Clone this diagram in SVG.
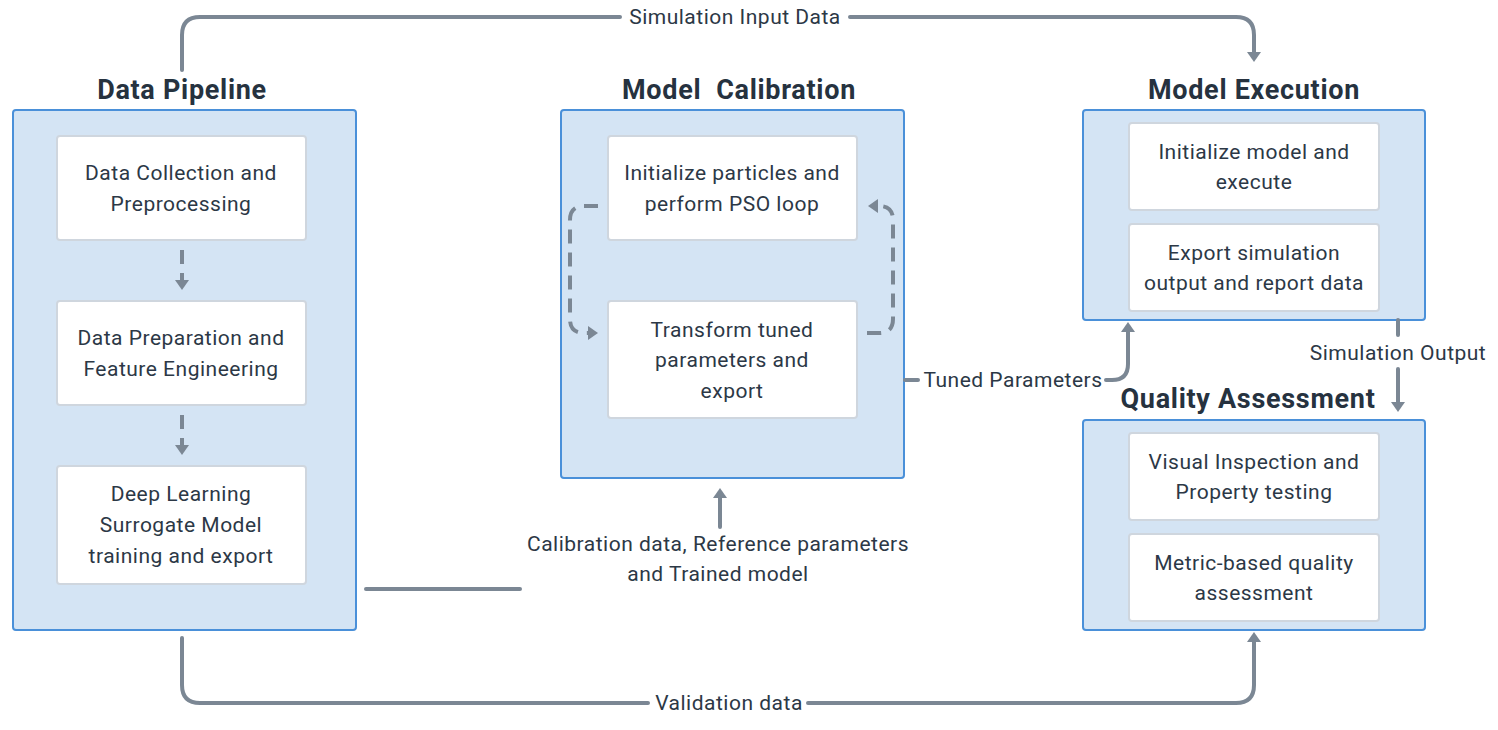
<svg xmlns="http://www.w3.org/2000/svg" width="1498" height="730" viewBox="0 0 1498 730">
<defs>
<marker id="arr" markerUnits="userSpaceOnUse" markerWidth="12" markerHeight="16" viewBox="0 0 10 16" refX="4" refY="8" orient="auto">
<path d="M0,1 L10,8 L0,15 z" fill="#7b8794"/>
</marker>
<style>
.group{fill:#d4e4f4;stroke:#4a90d9;stroke-width:2}
.box{fill:#ffffff;stroke:#cfd6de;stroke-width:2}
.title{font-family:Roboto,"Liberation Sans",sans-serif;font-weight:bold;font-size:27px;fill:#26323f;text-anchor:middle;letter-spacing:0.7px}
.t{font-family:Roboto,"Liberation Sans",sans-serif;font-size:21px;fill:#2c3846;text-anchor:middle;letter-spacing:0.5px}
.c{fill:none;stroke:#7b8794;stroke-width:4;stroke-linecap:round;stroke-linejoin:round}
.d{fill:none;stroke:#7b8794;stroke-width:4;stroke-dasharray:14 9}
</style>
</defs>

<g id="data-pipeline">
<text class="title" x="182" y="99">Data Pipeline</text>
<rect class="group" x="13" y="110" width="343" height="520" rx="3"/>
<g id="data-collection">
<rect class="box" x="57" y="136" width="249" height="104" rx="3"/>
<text class="t" x="181" y="180">Data Collection and</text>
<text class="t" x="181" y="211">Preprocessing</text>
</g>
<g id="data-preparation">
<rect class="box" x="57" y="301" width="249" height="104" rx="3"/>
<text class="t" x="181" y="345">Data Preparation and</text>
<text class="t" x="181" y="376">Feature Engineering</text>
</g>
<g id="deep-learning">
<rect class="box" x="57" y="466" width="249" height="118" rx="3"/>
<text class="t" x="181" y="501">Deep Learning</text>
<text class="t" x="181" y="532">Surrogate Model</text>
<text class="t" x="181" y="563">training and export</text>
</g>
</g>

<g id="model-calibration">
<text class="title" x="739" y="99">Model&#160; Calibration</text>
<rect class="group" x="561" y="110" width="343" height="368" rx="3"/>
<g id="init-particles">
<rect class="box" x="608" y="136" width="249" height="104" rx="3"/>
<text class="t" x="732" y="180">Initialize particles and</text>
<text class="t" x="732" y="211">perform PSO loop</text>
</g>
<g id="transform-params">
<rect class="box" x="608" y="301" width="249" height="117" rx="3"/>
<text class="t" x="732" y="337">Transform tuned</text>
<text class="t" x="732" y="367">parameters and</text>
<text class="t" x="732" y="398">export</text>
</g>
</g>

<g id="model-execution">
<text class="title" x="1254" y="99">Model Execution</text>
<rect class="group" x="1083" y="110" width="342" height="210" rx="3"/>
<g id="init-model">
<rect class="box" x="1129" y="123" width="250" height="87" rx="3"/>
<text class="t" x="1254" y="159">Initialize model and</text>
<text class="t" x="1254" y="189">execute</text>
</g>
<g id="export-sim">
<rect class="box" x="1129" y="224" width="250" height="87" rx="3"/>
<text class="t" x="1254" y="260">Export simulation</text>
<text class="t" x="1254" y="290">output and report data</text>
</g>
</g>

<g id="quality-assessment">
<text class="title" x="1248" y="408">Quality Assessment</text>
<rect class="group" x="1083" y="420" width="342" height="210" rx="3"/>
<g id="visual-inspection">
<rect class="box" x="1129" y="433" width="250" height="87" rx="3"/>
<text class="t" x="1254" y="469">Visual Inspection and</text>
<text class="t" x="1254" y="499">Property testing</text>
</g>
<g id="metric-based">
<rect class="box" x="1129" y="534" width="250" height="87" rx="3"/>
<text class="t" x="1254" y="570">Metric-based quality</text>
<text class="t" x="1254" y="600">assessment</text>
</g>
</g>

<g id="connectors">
<path class="d" d="M182,250 V284" marker-end="url(#arr)"/>
<path class="d" d="M182,415 V449" marker-end="url(#arr)"/>
<path class="d" d="M598,206 H584 Q570,206 570,220 V319 Q570,333 584,333 H592" marker-end="url(#arr)"/>
<path class="d" d="M867,333 H879 Q893,333 893,319 V220 Q893,206 879,206 H874" marker-end="url(#arr)"/>

<path class="c" d="M182,70 V35 Q182,17 200,17 H620"/>
<path class="c" d="M850,17 H1236 Q1254,17 1254,35 V56" marker-end="url(#arr)"/>
<text class="t" x="735" y="24">Simulation Input Data</text>

<path class="c" d="M182,638 V685 Q182,703 200,703 H648"/>
<path class="c" d="M808,703 H1236 Q1254,703 1254,685 V638" marker-end="url(#arr)"/>
<text class="t" x="729" y="710">Validation data</text>

<path class="c" d="M366,589 H520"/>
<path class="c" d="M720,527 V494" marker-end="url(#arr)"/>
<text class="t" x="718" y="551">Calibration data, Reference parameters</text>
<text class="t" x="718" y="581">and Trained model</text>

<path class="c" d="M905,380 H918"/>
<text class="t" x="1013" y="387">Tuned Parameters</text>
<path class="c" d="M1106,380 H1112 Q1128,380 1128,364 V328" marker-end="url(#arr)"/>

<path class="c" d="M1398,320 V335"/>
<text class="t" x="1398" y="360">Simulation Output</text>
<path class="c" d="M1398,369 V406" marker-end="url(#arr)"/>
</g>
</svg>
